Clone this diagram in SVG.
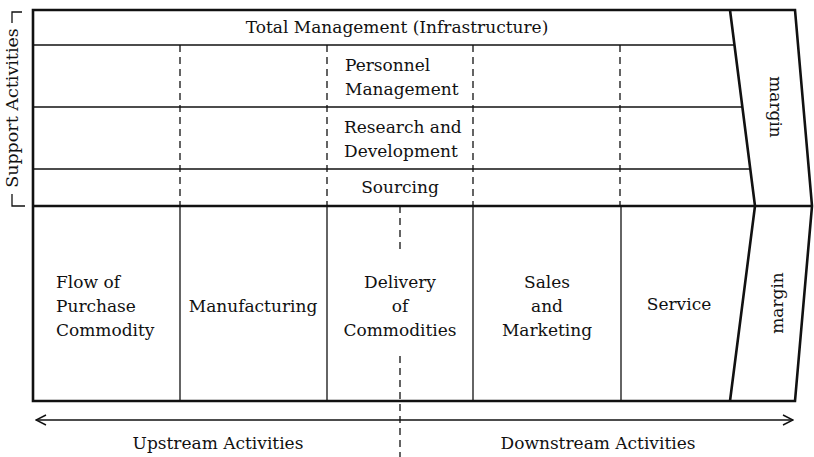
<svg xmlns="http://www.w3.org/2000/svg" width="814" height="457" viewBox="0 0 814 457">
  <defs>
    <style>
      .bg { fill: #ffffff; }
      .frame { fill: none; stroke: #111; stroke-width: 2.6; stroke-linejoin: miter; }
      .row { fill: none; stroke: #111; stroke-width: 1.6; }
      .col { fill: none; stroke: #111; stroke-width: 1.3; }
      .dash { fill: none; stroke: #111; stroke-width: 1.3; stroke-dasharray: 7 5; }
      .conn { fill: none; stroke: #111; stroke-width: 1.3; }
      text { font-family: "DejaVu Serif", "Liberation Serif", serif; font-size: 17px; fill: #111; }
      .c { text-anchor: middle; }
      .side { font-size: 17.5px; }
    </style>
    <marker id="open" markerWidth="12" markerHeight="12" refX="11" refY="6" orient="auto-start-reverse" markerUnits="userSpaceOnUse">
      <path d="M1,1 L11,6 L1,11" fill="none" stroke="#111" stroke-width="1.4"/>
    </marker>
  </defs>

  <rect class="bg" x="0" y="0" width="814" height="457"/>

  <!-- outer frame with the margin chevron -->
  <g id="frame">
    <path class="frame" d="M33,10 H795 L812,206 L795,401 H33 Z"/>
    <path class="frame" d="M730,10 L755,206 L730,401"/>
    <line class="frame" x1="33" y1="206" x2="812" y2="206"/>
  </g>

  <!-- support activity rows -->
  <g id="support-rows">
    <line class="row" x1="33" y1="45" x2="734.5" y2="45"/>
    <line class="row" x1="33" y1="107" x2="742.4" y2="107"/>
    <line class="row" x1="33" y1="169" x2="750.3" y2="169"/>
  </g>

  <!-- column guides -->
  <g id="columns">
    <line class="dash" x1="180" y1="45" x2="180" y2="206"/>
    <line class="dash" x1="327" y1="45" x2="327" y2="206"/>
    <line class="dash" x1="473" y1="45" x2="473" y2="206"/>
    <line class="dash" x1="620" y1="45" x2="620" y2="206"/>
    <line class="col" x1="180" y1="206" x2="180" y2="401"/>
    <line class="col" x1="327" y1="206" x2="327" y2="401"/>
    <line class="col" x1="473" y1="206" x2="473" y2="401"/>
    <line class="col" x1="621" y1="206" x2="621" y2="401"/>
  </g>

  <!-- support activity labels -->
  <g id="infrastructure">
    <text class="c" x="397" y="33">Total Management (Infrastructure)</text>
  </g>
  <g id="personnel">
    <text x="345" y="71">Personnel</text>
    <text x="345" y="95">Management</text>
  </g>
  <g id="research">
    <text x="344" y="133">Research and</text>
    <text x="344" y="157">Development</text>
  </g>
  <g id="sourcing">
    <text class="c" x="400" y="193">Sourcing</text>
  </g>

  <!-- primary activity labels -->
  <g id="inbound">
    <text x="56" y="288">Flow of</text>
    <text x="56" y="312">Purchase</text>
    <text x="56" y="336">Commodity</text>
  </g>
  <g id="manufacturing">
    <text class="c" x="253" y="312">Manufacturing</text>
  </g>
  <g id="delivery">
    <text class="c" x="400" y="288">Delivery</text>
    <text class="c" x="400" y="312">of</text>
    <text class="c" x="400" y="336">Commodities</text>
  </g>
  <g id="sales">
    <text class="c" x="547" y="288">Sales</text>
    <text class="c" x="547" y="312">and</text>
    <text class="c" x="547" y="336">Marketing</text>
  </g>
  <g id="service">
    <text class="c" x="679" y="310">Service</text>
  </g>

  <!-- margin labels -->
  <g id="margin-support">
    <text class="c" transform="translate(770,107) rotate(90)">margin</text>
  </g>
  <g id="margin-primary">
    <text class="c" transform="translate(783,303) rotate(-90)">margin</text>
  </g>

  <!-- support activities bracket -->
  <g id="support-label">
    <path class="conn" d="M22,12 H12 V23"/>
    <path class="conn" d="M12,194 V206 H25"/>
    <text class="c side" transform="translate(18,108) rotate(-90)">Support Activities</text>
  </g>

  <!-- value-chain direction -->
  <g id="connectors">
    <line class="conn" x1="36" y1="420" x2="793" y2="420" marker-start="url(#open)" marker-end="url(#open)"/>
    <line class="dash" x1="400" y1="206" x2="400" y2="252"/>
    <line class="dash" x1="400" y1="356" x2="400" y2="457"/>
  </g>
  <g id="upstream">
    <text class="c" x="218" y="449">Upstream Activities</text>
  </g>
  <g id="downstream">
    <text class="c" x="598" y="449">Downstream Activities</text>
  </g>
</svg>
